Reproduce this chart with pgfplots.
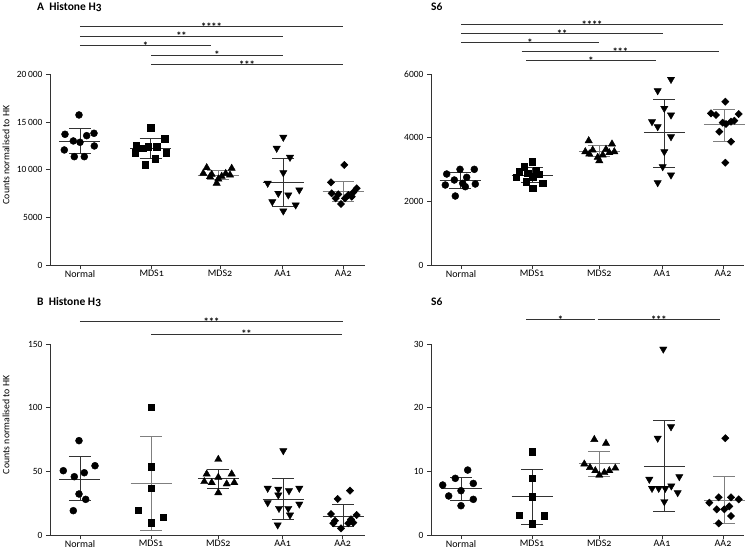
\documentclass[border=0pt]{standalone}
\usepackage{fontspec}
\setmainfont{Carlito}[Numbers=OldStyle]
\newfontfamily\tickfont{Carlito}
\usepackage{pgfplots}
\pgfplotsset{compat=1.18}
\definecolor{axgray}{HTML}{333333}
\definecolor{lgray}{HTML}{7F7F7F}

\newcommand{\msd}[5]{%
  \pgfmathsetmacro{\xa}{#1-20.5}%
  \pgfmathsetmacro{\xb}{#1+20.5}%
  \pgfmathsetmacro{\xc}{#1-11}%
  \pgfmathsetmacro{\xd}{#1+11}%
  \edef\msdtemp{%
    \noexpand\addplot[#5, line width=0.9pt, forget plot] coordinates {(\xa,#2) (\xb,#2)};%
    \noexpand\addplot[#5, line width=0.9pt, forget plot] coordinates {(#1,#3) (#1,#4)};%
    \noexpand\addplot[#5, line width=0.9pt, forget plot] coordinates {(\xc,#4) (\xd,#4)};%
    \noexpand\addplot[#5, line width=0.9pt, forget plot] coordinates {(\xc,#3) (\xd,#3)};%
  }\msdtemp}
\newcommand{\sig}[4]{%
  \addplot[axgray, line width=0.7pt, forget plot] coordinates {(#1,#3) (#2,#3)}
    node[pos=0.5, anchor=base, yshift=-3.6pt, inner sep=0pt, text=black, font=\bfseries\fontsize{10.5}{10.5}\selectfont] {#4};}

\pgfplotsset{
  panel/.style={scale only axis, axis lines*=left, tick align=outside,
    major tick length=4pt, clip=false, scaled y ticks=false,
    axis line style={axgray, line width=0.8pt},
    tick style={axgray, line width=0.8pt},
    x tick label style={font=\fontsize{10}{11}\selectfont, inner sep=1.5pt, yshift=0.5pt},
    y tick label style={font=\tickfont\fontsize{9.5}{10}\selectfont},
    xticklabels={Normal,MDS1,MDS2,AA1,AA2},
    ymin=0},
  ylab/.style={ylabel={Counts normalised to HK},
    ylabel style={at={(axis description cs:-0.14,0.577)}, anchor=center, font=\fontsize{9.8}{10}\selectfont}},
  circ/.style={only marks, black, mark=*, mark size=3.5pt, mark options={fill=black, draw=black}},
  sqr/.style={only marks, black, mark=square*, mark size=3.3pt, mark options={fill=black, draw=black}},
  tri/.style={only marks, black, mark=triangle*, mark size=4.2pt, mark options={fill=black, draw=black}},
  itri/.style={only marks, black, mark=triangle*, mark size=4.2pt, mark options={fill=black, draw=black, rotate=180}},
  dia/.style={only marks, black, mark=square*, mark size=2.6pt, mark options={fill=black, draw=black, rotate=45}},
}

\begin{document}
\begin{tikzpicture}
\path[use as bounding box] (0,0) rectangle (756pt,549pt);

% ---------------- Panel A: Histone H3 (top left)
\begin{axis}[panel, ylab, at={(50pt,284pt)}, anchor=south west,
  width=315pt, height=190.7pt, xmin=50, xmax=365, ymax=20000,
  xtick={80,151.7,220,282.7,343.3},
  ytick={0,5000,10000,15000,20000},
  yticklabels={0,5000,10\,000,15\,000,20\,000}]
\addplot[circ] coordinates {(79,15735) (65,13710) (94,13815) (86.7,13564) (73.3,13008) (80,12869) (94.3,12483) (64.3,12064) (74.3,11361) (84.3,11361)};
\addplot[sqr] coordinates {(150.7,14403) (136,12483) (164.7,13217) (156.7,12410) (148.3,12410) (135,11780) (166,11780) (155,11119) (145.3,10521) (142.7,12241)};
\addplot[tri] coordinates {(206.7,10208) (231.7,10140) (211.7,9511) (203.3,9616) (225.7,9600) (230,9441) (218.3,9021) (210,9263) (221.7,9300) (216.7,8573)};
\addplot[itri] coordinates {(283.3,13393) (276.7,12241) (290,11296) (283.3,9682) (267.7,8573) (299.3,7868) (278.3,7518) (288.3,7343) (272.3,6640) (295.7,6294) (283.3,5665)};
\addplot[dia] coordinates {(344.3,10490) (331,8673) (356.7,8044) (353.3,7624) (331.7,7518) (338.3,7413) (348.3,7343) (351.7,7168) (335.7,6993) (345,6993) (341,6400)};
\msd{80}{13000}{11700}{14280}{axgray}
\msd{150.7}{12200}{11190}{13290}{axgray}
\msd{218}{9440}{8920}{9965}{lgray}
\msd{283}{8673}{6189}{11191}{axgray}
\msd{343}{7763}{6640}{8812}{lgray}
\sig{80}{343}{25000}{****}
\sig{80}{283}{24000}{**}
\sig{80}{211}{23000}{*}
\sig{151}{283}{22000}{*}
\sig{151}{343}{21000}{***}
\end{axis}

% ---------------- Panel A: S6 (top right)
\begin{axis}[panel, at={(431pt,284pt)}, anchor=south west,
  width=313.3pt, height=191pt, xmin=431, xmax=744.3, ymax=6000,
  xtick={461,532,599.3,662,723},
  ytick={0,2000,4000,6000},
  yticklabels={0,2000,4000,6000}]
\addplot[circ] coordinates {(460,3005) (474.3,3005) (446.7,2858) (466.7,2754) (454.3,2670) (462.7,2566) (475.3,2544) (445.3,2513) (465.3,2460) (455.3,2167)};
\addplot[sqr] coordinates {(532,3245) (524.3,3088) (536,2963) (519.3,2931) (527.7,2880) (538.7,2858) (532.7,2775) (516,2754) (526,2617) (542.7,2566) (532.7,2409)};
\addplot[tri] coordinates {(588.7,3904) (612,3801) (606,3634) (592.7,3612) (585.3,3559) (614.3,3559) (609.3,3528) (589.3,3487) (602.7,3455) (597.7,3383) (599.3,3276)};
\addplot[itri] coordinates {(671,5832) (657.7,5475) (664.3,4921) (671,4712) (652,4502) (657.7,4344) (671,4030) (664.3,3559) (662.7,3088) (671,2827) (657.7,2585)};
\addplot[dia] coordinates {(725.3,5130) (711,4764) (716,4712) (738.7,4743) (734.3,4533) (731,4502) (722.7,4470) (726,4429) (719.3,4187) (731,3873) (725.3,3213)};
\msd{460}{2670}{2415}{2905}{axgray}
\msd{532}{2817}{2590}{3050}{axgray}
\msd{599.3}{3580}{3400}{3745}{lgray}
\msd{664.3}{4156}{3068}{5205}{axgray}
\msd{724.3}{4418}{3890}{4900}{lgray}
\sig{461}{723}{7550}{****}
\sig{461}{663}{7270}{**}
\sig{461}{599}{6990}{*}
\sig{521.7}{719}{6700}{***}
\sig{526}{656}{6420}{*}
\end{axis}

% ---------------- Panel B: Histone H3 (bottom left)
\begin{axis}[panel, ylab, at={(50pt,14pt)}, anchor=south west,
  width=315pt, height=191pt, xmin=50, xmax=365, ymax=150,
  xtick={80,151,218.3,282.7,342.7},
  ytick={0,50,100,150},
  yticklabels={0,50,100,150}]
\addplot[circ] coordinates {(79,74.1) (95,54.4) (63.3,50.5) (84.3,48.9) (74.3,45.8) (79,32.2) (85.7,28.0) (73.3,19.1)};
\addplot[sqr] coordinates {(151,100.3) (151,53.7) (151,36.7) (138.3,19.6) (163.3,13.9) (151,9.7)};
\addplot[tri] coordinates {(218.3,59.4) (206.7,47.9) (231.7,47.9) (218.3,45.3) (204.3,41.9) (211.7,41.1) (234.3,41.1) (226.7,40.1) (218.3,33.2)};
\addplot[itri] coordinates {(283.3,66.2) (267.7,36.7) (299.3,36.7) (278.3,35.9) (289,34.8) (278.3,31.4) (267.7,25.4) (299.3,24.3) (279,20.9) (288.3,20.9) (290,15.7) (277.7,7.9)};
\addplot[dia] coordinates {(350,34.8) (337.7,28.3) (331,16.5) (356.7,15.7) (351,12.3) (335,11.2) (353.3,9.7) (348.3,9.2) (333.3,9.2) (341,5.2)};
\msd{80}{44.0}{26.9}{61.5}{axgray}
\msd{151}{40.6}{3.4}{77.7}{lgray}
\msd{218.3}{44.2}{36.7}{51.6}{axgray}
\msd{283}{28.3}{12.6}{44.5}{axgray}
\msd{343}{14.9}{6.5}{24.1}{axgray}
\sig{80}{343}{167.5}{***}
\sig{151}{342}{157.6}{**}
\end{axis}

% ---------------- Panel B: S6 (bottom right)
\begin{axis}[panel, at={(431pt,14pt)}, anchor=south west,
  width=313.3pt, height=191pt, xmin=431, xmax=744.3, ymax=30,
  xtick={461,532,599.3,662,723},
  ytick={0,10,20,30},
  yticklabels={0,10,20,30}]
\addplot[circ] coordinates {(467.7,10.2) (455.3,8.9) (473.3,8.1) (442.7,7.85) (461,6.96) (448.7,6.13) (473.3,5.6) (461,4.6)};
\addplot[sqr] coordinates {(532,13.1) (532,8.9) (532,6.0) (519.3,3.1) (544.3,3.0) (532,1.8)};
\addplot[tri] coordinates {(594.3,15.0) (606,14.4) (584.3,11.15) (590,10.6) (615.3,10.5) (595.3,10.1) (609.3,10.1) (604.3,9.8) (599.3,9.4)};
\addplot[itri] coordinates {(663.3,29.2) (671,17.0) (657.7,15.2) (679.3,9.16) (649.3,8.75) (652,7.33) (658.7,7.33) (665.3,7.33) (671.3,7.7) (677.7,6.65) (664.3,5.24)};
\addplot[dia] coordinates {(725.3,15.2) (718.7,5.92) (731,5.92) (738.7,5.6) (709.3,5.08) (729.3,4.5) (716.7,4.03) (724.3,4.03) (731,2.98) (718.7,1.83)};
\msd{461}{7.28}{5.5}{9.06}{axgray}
\msd{532}{6.0}{1.7}{10.3}{axgray}
\msd{599.3}{11.26}{9.2}{13.2}{lgray}
\msd{664.3}{10.84}{3.77}{17.95}{axgray}
\msd{724.3}{5.5}{1.83}{9.16}{lgray}
\sig{526}{595}{33.8}{*}
\sig{597.7}{720}{33.8}{***}
\end{axis}

% ---------------- Titles
\node[anchor=base west, inner sep=0pt, font=\bfseries\fontsize{11.5}{12}\selectfont] at (37pt,538.5pt) {A\hspace{0.45em}Histone H3};
\node[anchor=base west, inner sep=0pt, font=\bfseries\fontsize{11.5}{12}\selectfont] at (431pt,538.5pt) {S6};
\node[anchor=base west, inner sep=0pt, font=\bfseries\fontsize{11.5}{12}\selectfont] at (37pt,243pt) {B\hspace{0.45em}Histone H3};
\node[anchor=base west, inner sep=0pt, font=\bfseries\fontsize{11.5}{12}\selectfont] at (431pt,243pt) {S6};
\end{tikzpicture}
\end{document}
